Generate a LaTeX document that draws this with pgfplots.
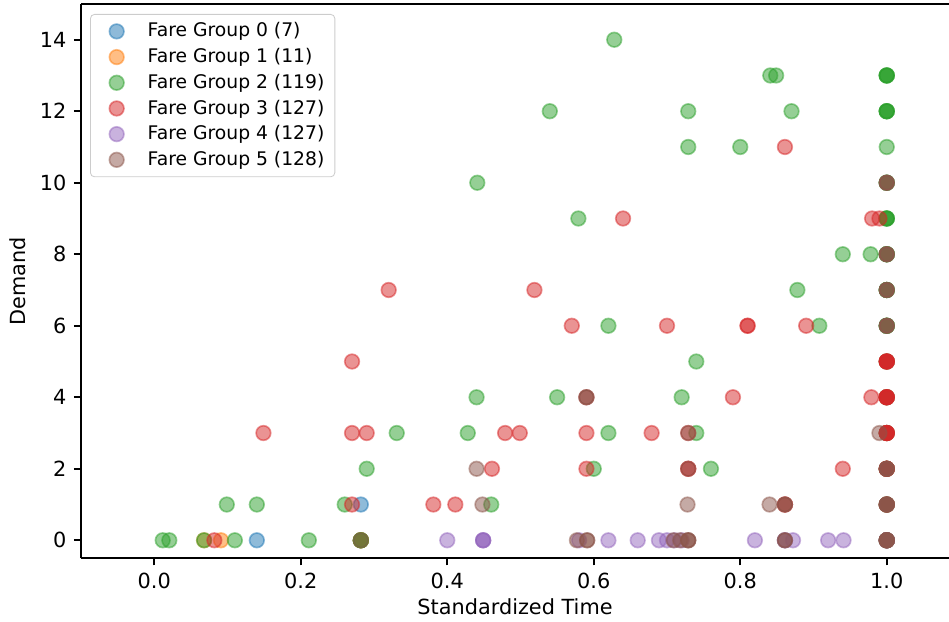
\documentclass[border=0pt]{standalone}
\usepackage{fontspec}
\setmainfont{DejaVu Sans}
\usepackage{pgfplots}
\pgfplotsset{compat=1.18}
\definecolor{c0}{HTML}{1F77B4}
\definecolor{c1}{HTML}{FF7F0E}
\definecolor{c2}{HTML}{2CA02C}
\definecolor{c3}{HTML}{D62728}
\definecolor{c4}{HTML}{9467BD}
\definecolor{c5}{HTML}{8C564B}
\begin{document}
\begin{tikzpicture}
\useasboundingbox (-38.9pt,-30.2pt) rectangle (416.6pt,267.9pt);
\begin{axis}[
  at={(0pt,0pt)}, anchor=south west,
  scale only axis, width=416.6pt, height=266pt,
  xmin=-0.1, xmax=1.085, ymin=-0.5, ymax=15,
  axis x line*=box, axis y line*=left,
  axis line style={line width=0.8pt},
  tick align=outside, tick pos=left,
  major tick length=3.5pt,
  every tick/.style={black, line width=0.8pt},
  xtick={0,0.2,0.4,0.6,0.8,1.0},
  ytick={0,2,4,6,8,10,12,14},
  xticklabel style={/pgf/number format/.cd, fixed, fixed zerofill, precision=1},
  /pgf/number format/assume math mode=true,
  ticklabel style={font=\fontsize{10}{12}\selectfont},
  xlabel={Standardized Time}, ylabel={Demand},
  label style={font=\fontsize{10}{12}\selectfont},
  every axis x label/.style={at={(axis description cs:0.5,-0.0884)}, anchor=center},
  every axis y label/.style={at={(axis description cs:-0.0727,0.5)}, anchor=center, rotate=90},
  legend cell align=left,
  legend style={at={(rel axis cs:0,1)}, xshift=4.3pt, yshift=-4.8pt, anchor=north west,
    draw=black!20, rounded corners=2pt, fill=white, fill opacity=0.8, text opacity=1,
    font=\fontsize{9}{10.8}\selectfont, row sep=0pt, inner xsep=3pt, inner ysep=2pt},
  legend image code/.code={\path[draw=none,fill=none] (0pt,-3pt) rectangle (22.5pt,3pt); \draw[#1] plot coordinates {(9.6pt,0pt)};},
  every axis plot/.append style={only marks, mark=*, mark size=3.5pt, line width=0.8pt, mark options={opacity=0.5}},
]
\addplot[color=c0] coordinates {(0.14,0) (0.282,1) (0.282,0) (0.282,0)};
\addlegendentry{Fare Group 0 (7)}
\addplot[color=c1] coordinates {(0.068,0) (0.091,0) (0.282,0) (0.282,0) (0.282,0)};
\addlegendentry{Fare Group 1 (11)}
\addplot[color=c2] coordinates {
(0.0115,0) (0.0205,0) (0.068,0) (0.11,0) (0.211,0) (0.282,0) (0.282,0) (1,0) (1,0) (1,0)
(0.099,1) (0.14,1) (0.26,1) (0.46,1) (1,1) (1,1)
(0.29,2) (0.60,2) (0.76,2) (1,2) (1,2)
(0.331,3) (0.428,3) (0.62,3) (0.74,3) (1,3) (1,3)
(0.44,4) (0.55,4) (0.72,4) (1,4) (1,4)
(0.74,5) (1,5) (1,5)
(0.62,6) (0.908,6) (1,6) (1,6) (1,6) (1,6)
(0.878,7) (1,7) (1,7) (1,7) (1,7)
(0.94,8) (0.978,8) (1,8) (1,8) (1,8) (1,8)
(0.579,9) (1,9) (1,9) (1,9) (1,9)
(0.441,10) (1,10) (1,10) (1,10)
(0.729,11) (0.80,11) (1,11)
(0.54,12) (0.729,12) (0.87,12) (1,12) (1,12) (1,12) (1,12)
(0.841,13) (0.849,13) (1,13) (1,13) (1,13) (1,13)
(0.628,14)
};
\addlegendentry{Fare Group 2 (119)}
\addplot[color=c3] coordinates {
(0.082,0) (1,0) (1,0)
(0.27,1) (0.381,1) (0.411,1) (0.861,1) (0.861,1) (1,1) (1,1)
(0.461,2) (0.59,2) (0.729,2) (0.729,2) (0.94,2) (1,2) (1,2) (1,2) (1,2)
(0.149,3) (0.27,3) (0.29,3) (0.479,3) (0.499,3) (0.59,3) (0.679,3) (0.729,3) (1,3) (1,3) (1,3) (1,3) (1,3)
(0.59,4) (0.79,4) (0.979,4) (1,4) (1,4) (1,4) (1,4) (1,4)
(0.27,5) (1,5) (1,5) (1,5) (1,5) (1,5)
(0.57,6) (0.70,6) (0.81,6) (0.81,6) (0.89,6)
(0.32,7) (0.519,7)
(0.64,9) (0.98,9) (0.99,9)
(0.861,11)
};
\addlegendentry{Fare Group 3 (127)}
\addplot[color=c4] coordinates {
(0.40,0) (0.449,0) (0.449,0) (0.449,0) (0.58,0) (0.62,0) (0.66,0) (0.689,0) (0.70,0) (0.71,0) (0.72,0)
(0.82,0) (0.861,0) (0.861,0) (0.872,0) (0.92,0) (0.941,0) (1,0) (1,0) (1,0)
};
\addlegendentry{Fare Group 4 (127)}
\addplot[color=c5] coordinates {
(0.282,0) (0.577,0) (0.591,0) (0.591,0) (0.709,0) (0.718,0) (0.729,0) (0.729,0) (0.729,0) (0.861,0) (0.861,0) (1,0) (1,0) (1,0) (1,0) (1,0)
(0.448,1) (0.728,1) (0.84,1) (0.861,1) (0.861,1) (1,1) (1,1) (1,1) (1,1) (1,1)
(0.44,2) (0.729,2) (1,2) (1,2) (1,2)
(0.729,3) (0.99,3)
(0.59,4) (0.59,4)
(1,6) (1,6) (1,6)
(1,7) (1,7) (1,7)
(1,8) (1,8) (1,8)
(1,10) (1,10) (1,10)
};
\addlegendentry{Fare Group 5 (128)}
\end{axis}
\end{tikzpicture}
\end{document}
